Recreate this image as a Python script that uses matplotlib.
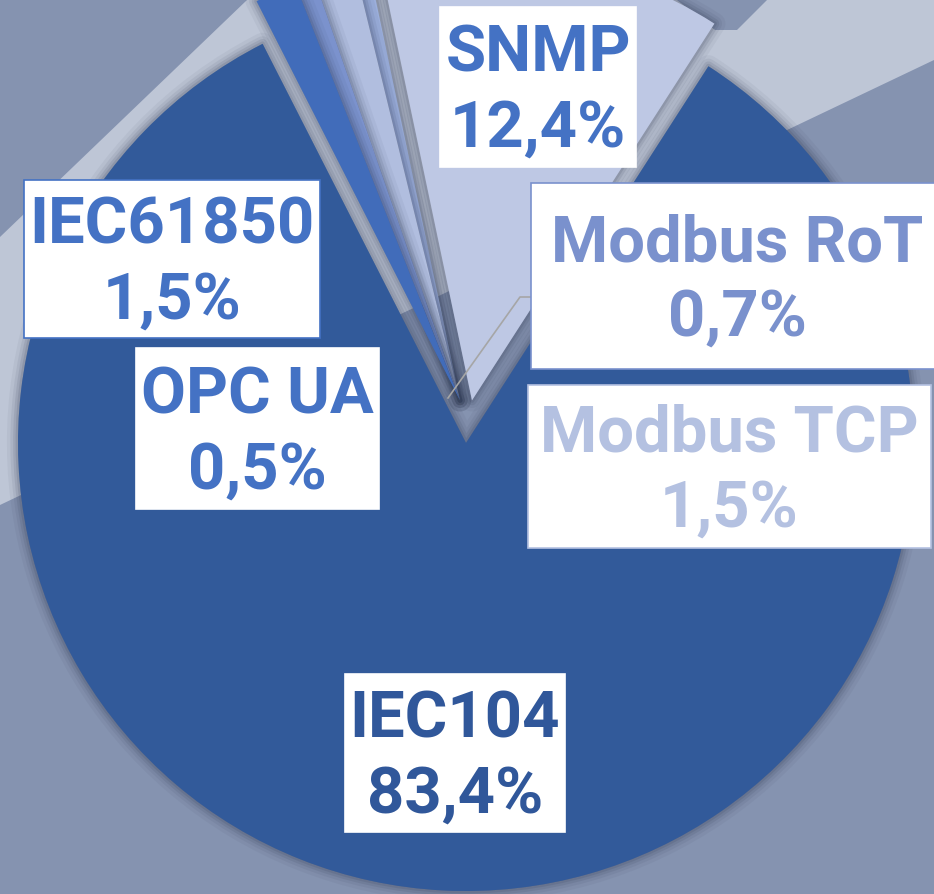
import matplotlib
matplotlib.use("Agg")
import math
import matplotlib.pyplot as plt
import matplotlib.patheffects as pe
from matplotlib.patches import Polygon, Rectangle

# data, counter-clockwise from the left edge of the big slice
protocols = ["IEC104", "SNMP", "OPC UA", "Modbus TCP", "Modbus RoT", "IEC61850"]
shares = [83.4, 12.4, 0.5, 1.5, 0.7, 1.5]

slice_colors = ["#325a9a", "#bec8e4", "#9cafdc", "#b1bedf", "#7b92cd", "#416cba"]
text_colors = ["#30579a", "#4472c4", "#4472c4", "#b4c1e1", "#7a91cd", "#4472c4"]
border_colors = ["white", "white", "white", "#b4c1e1", "#7a91cd", "#4472c4"]

# how the small slices are pulled out of the pie: (distance px, direction deg)
pull = [(0, 0), (43, 82), (43, 98), (43, 98), (43, 98), (43, 98)]

# label boxes in image pixels (x0, y0 from top, x1, y1)
label_boxes = [
    (345, 674, 565, 832),
    (440, 7, 636, 167),
    (136, 348, 379, 509),
    (528, 385, 931, 548),
    (531, 183, 945, 369),
    (24, 180, 320, 338),
]
label_cx = [455, 538, 257, 729, 737, 172]

W, H = 934, 894
RADIUS = 448


def py(y):
    # image rows run downwards, data y runs upwards
    return H - y


fig = plt.figure(figsize=(W / 100, H / 100), dpi=100)
ax = fig.add_axes([0, 0, 1, 1])

# background: grey-blue base with a light diagonal band
ax.add_patch(Rectangle((0, 0), W, H, facecolor="#8593b0", edgecolor="none", zorder=0))
band = [(0, 237), (247, 0), (934, 0), (934, 60), (0, 505)]
ax.add_patch(Polygon([(x, py(y)) for x, y in band], closed=True,
                     facecolor="#bec6d6", edgecolor="none", zorder=0))
notch = [(677, 0), (767, 0), (737, 30), (715, 30)]
ax.add_patch(Polygon([(x, py(y)) for x, y in notch], closed=True,
                     facecolor="#8593b0", edgecolor="none", zorder=0))

wedges, _ = ax.pie(shares, colors=slice_colors,
                   startangle=117, counterclock=True,
                   center=(466, py(443)), radius=RADIUS,
                   wedgeprops=dict(linewidth=0))

# soft shadow round each slice, and move the small ones out
# (round joins, otherwise the thin slices throw long miter spikes)
shadow = [pe.Stroke(linewidth=w, foreground="#263049", alpha=a,
                    joinstyle="round")
          for w, a in [(16, 0.05), (11, 0.07), (7, 0.1), (3.5, 0.12)]]
for w, (dist, ang) in zip(wedges, pull):
    cx, cy = w.center
    w.set_center((cx + dist * math.cos(math.radians(ang)),
                  cy + dist * math.sin(math.radians(ang))))
    w.set_path_effects(shadow + [pe.Normal()])

# leader line for Modbus RoT
ax.plot([448, 520, 531], [py(398), py(297), py(297)], color="#a6a6a6",
        lw=1.2, zorder=2)

for i, name in enumerate(protocols):
    x0, y0, x1, y1 = label_boxes[i]
    ax.add_patch(Rectangle((x0, py(y1)), x1 - x0, y1 - y0, facecolor="white",
                           edgecolor=border_colors[i], lw=1.2, zorder=3))
    cy = (y0 + y1) / 2
    pct = ("%.1f%%" % shares[i]).replace(".", ",")
    for txt, off in [(name, -15), (pct, 60)]:
        ax.text(label_cx[i], py(cy + off), txt, ha="center", va="baseline",
                fontsize=47, fontweight="bold", family="Roboto",
                color=text_colors[i], zorder=4)

ax.set_xlim(0, W)
ax.set_ylim(0, H)
ax.set_aspect("equal")
ax.axis("off")

fig.savefig("out.png", dpi=100)
